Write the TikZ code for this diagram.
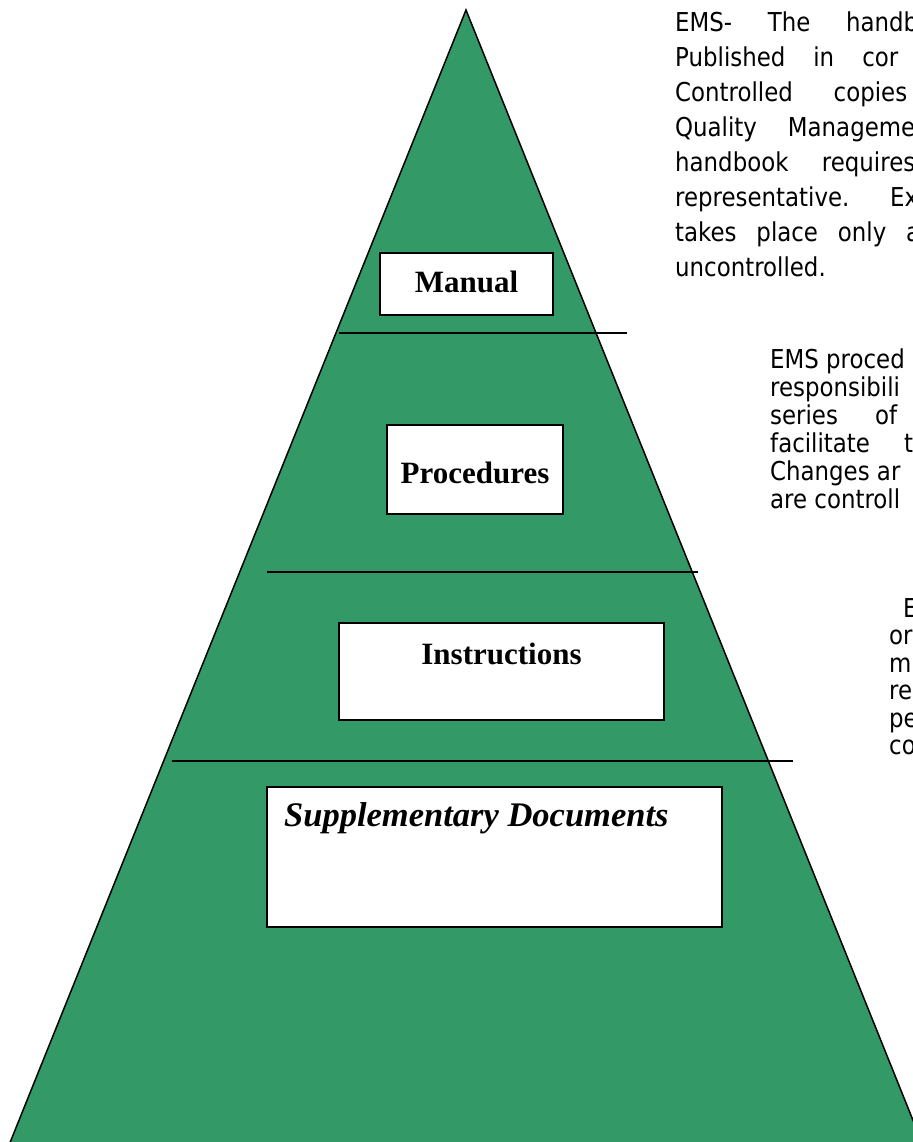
\documentclass[tikz,border=0pt]{standalone}
\usepackage{fontspec}
\setmainfont{DejaVu Sans}[FakeStretch=0.88]
\newfontfamily\boxfont{Liberation Serif}
\definecolor{pyramidgreen}{RGB}{51,153,102}

\tikzset{
  labelbox/.style={draw,line width=1.5bp,fill=white,inner sep=0pt},
  boxlabel/.style={anchor=base,inner sep=0pt,
                   font=\boxfont\bfseries\fontsize{31bp}{36bp}\selectfont},
  sidetext/.style={anchor=base west,inner sep=0pt,
                   font=\fontsize{26bp}{30bp}\selectfont},
  divider/.style={line width=1.5bp}
}

\begin{document}
\begin{tikzpicture}[x=1bp,y=-1bp]

\clip (0,0) rectangle (913,1142);
\fill [white] (0,0) rectangle (913,1142);

% the pyramid
\draw [fill=pyramidgreen,line width=1.5bp] (466,10) -- (929,1160) -- (3,1160) -- cycle;

% level lines
\draw [divider] (339,333) -- (627,333);
\draw [divider] (267,572) -- (698,572);
\draw [divider] (172,761) -- (793,761);

% boxes
\node [labelbox,minimum width=173bp,minimum height=62bp] (manualbox) at (466.5,284) {};
\node [labelbox,minimum width=176bp,minimum height=89bp] (procbox) at (475,469.5) {};
\node [labelbox,minimum width=325bp,minimum height=97bp] (instrbox) at (501.5,671.5) {};
\node [labelbox,minimum width=455bp,minimum height=140bp] (suppbox) at (494.5,857) {};

\node [boxlabel] (manual) at (manualbox.center) [yshift=-8bp] {Manual};
\node [boxlabel] (proc) at (475,483) {Procedures};
\node [boxlabel] (instr) at (501.5,664) {Instructions};
\node [boxlabel,anchor=base west,font=\boxfont\bfseries\itshape\fontsize{34.5bp}{40bp}\selectfont]
      (supp) at (284,826) {Supplementary Documents};

% text next to the manual
\node [sidetext] (emsa) at (675,31)  {\makebox[243bp][s]{EMS- The handb}};
\node [sidetext] (emsb) at (675,66)  {\makebox[223bp][s]{Published in cor}};
\node [sidetext] (emsc) at (675,101) {\makebox[232bp][s]{Controlled copies}};
\node [sidetext] (emsd) at (675,136) {\makebox[240bp][s]{Quality Manageme}};
\node [sidetext] (emse) at (675,171) {\makebox[240bp][s]{handbook requires}};
\node [sidetext] (emsf) at (675,206) {\makebox[243bp][s]{representative. Ex}};
\node [sidetext] (emsg) at (675,241) {\makebox[245bp][s]{takes place only a}};
\node [sidetext] (emsh) at (675,276) {uncontrolled.};

% text next to the procedures
\node [sidetext] (proca) at (770,368) {EMS proced};
\node [sidetext] (procb) at (770,396) {responsibili};
\node [sidetext] (procc) at (770,424) {\makebox[127bp][s]{series of}};
\node [sidetext] (procd) at (770,452) {\makebox[143bp][s]{facilitate t}};
\node [sidetext] (proce) at (770,480) {Changes ar};
\node [sidetext] (procf) at (770,508) {are controll};

% text next to the instructions
\node [sidetext] (instra) at (903,617) {E};
\node [sidetext] (instrb) at (889,644.5) {or};
\node [sidetext] (instrc) at (889,672) {m};
\node [sidetext] (instrd) at (889,699.5) {re};
\node [sidetext] (instre) at (889,727) {pe};
\node [sidetext] (instrf) at (889,754.5) {co};

\end{tikzpicture}
\end{document}
